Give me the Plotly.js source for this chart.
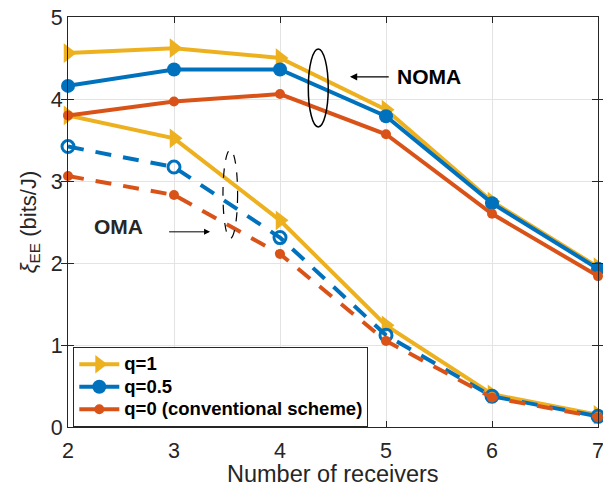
<!DOCTYPE html>
<html>
<head>
<meta charset="utf-8">
<script src="https://cdn.plot.ly/plotly-3.0.1.min.js"></script>
<style>html,body{margin:0;padding:0;background:#fff;}#chart{width:603px;height:485px;}</style>
</head>
<body>
<div id="chart"></div>
<script>
const receivers = [2, 3, 4, 5, 6, 7];
const nomaQ1   = [4.56, 4.62, 4.50, 3.87, 2.75, 1.95];
const nomaQ05  = [4.16, 4.36, 4.36, 3.79, 2.73, 1.93];
const nomaQ0   = [3.80, 3.97, 4.06, 3.57, 2.60, 1.84];
const omaQ1    = [3.80, 3.52, 2.52, 1.24, 0.40, 0.15];
const omaQ05   = [3.42, 3.17, 2.31, 1.12, 0.375, 0.13];
const omaQ0    = [3.06, 2.83, 2.11, 1.05, 0.36, 0.12];
const legendNames = ['q=1', 'q=0.5', 'q=0 (conventional scheme)'];
const xTicks = [2, 3, 4, 5, 6, 7];
const yTicks = [0, 1, 2, 3, 4, 5];
const xTitle = 'Number of receivers';
const yTitle = '<i>ξ</i><sub>EE</sub> (bits/J)';

const cYellow = '#EDB120', cBlue = '#0072BD', cOrange = '#D95319';
const LW = 4;
const FF = 'Liberation Sans, Arial, sans-serif';
const legLabel = s => '<span style="font-size:18.5px">' + s + '</span>';

const traces = [
  {x: receivers, y: omaQ1, mode: 'lines+markers', showlegend: false, cliponaxis: false,
   line: {color: cYellow, width: LW}, marker: {symbol: 'triangle-right', size: 17, color: cYellow}},
  {x: receivers, y: omaQ05, mode: 'lines+markers', showlegend: false, cliponaxis: false,
   line: {color: cBlue, width: LW, dash: '16px,12px'}, marker: {symbol: 'circle-open', size: 12, color: cBlue, line: {width: 3, color: cBlue}}},
  {x: receivers, y: omaQ0, mode: 'lines+markers', showlegend: false, cliponaxis: false,
   line: {color: cOrange, width: LW, dash: '16px,12px'}, marker: {symbol: 'circle', size: 10, color: cOrange}},
  {x: receivers, y: nomaQ1, mode: 'lines+markers', name: legLabel(legendNames[0]), cliponaxis: false,
   line: {color: cYellow, width: LW}, marker: {symbol: 'triangle-right', size: 17, color: cYellow}},
  {x: receivers, y: nomaQ05, mode: 'lines+markers', name: legLabel(legendNames[1]), cliponaxis: false,
   line: {color: cBlue, width: LW}, marker: {symbol: 'circle', size: 14, color: cBlue}},
  {x: receivers, y: nomaQ0, mode: 'lines+markers', name: legLabel(legendNames[2]), cliponaxis: false,
   line: {color: cOrange, width: LW}, marker: {symbol: 'circle', size: 10, color: cOrange}},
  // empty helper trace so the overlay axis (inside ticks only) is drawn
  {x: [], y: [], xaxis: 'x2', yaxis: 'y', mode: 'markers', showlegend: false, hoverinfo: 'skip'}
];

const axisCommon = {
  showline: true, linecolor: '#262626', linewidth: 1, mirror: 'allticks',
  ticks: 'inside', ticklen: 6, tickcolor: '#262626',
  showgrid: true, gridcolor: '#e3e3e3', gridwidth: 1, zeroline: false,
  ticklabeloverflow: 'allow',
  tickfont: {family: FF, size: 21.5, color: '#262626'}
};

const layout = {
  width: 603, height: 485,
  margin: {l: 68, r: 5, t: 17, b: 58},
  paper_bgcolor: '#fff', plot_bgcolor: '#fff',
  font: {family: FF, color: '#262626'},
  xaxis: Object.assign({}, axisCommon, {
    range: [2, 7], tickvals: xTicks, ticktext: xTicks.map(String),
    ticks: 'outside', ticklen: 4, tickcolor: 'rgba(0,0,0,0)', mirror: true
  }),
  xaxis2: {
    overlaying: 'x', anchor: 'y', side: 'bottom', range: [2, 7], tickvals: xTicks,
    showticklabels: false, ticks: 'inside', ticklen: 6, tickcolor: '#262626',
    showline: true, linecolor: '#262626', linewidth: 1, mirror: 'allticks',
    showgrid: false, zeroline: false
  },
  yaxis: Object.assign({}, axisCommon, {
    range: [0, 5], tickvals: yTicks, ticktext: yTicks.map(String),
    title: {text: yTitle, font: {family: FF, size: 22, color: '#262626'}, standoff: 8}
  }),
  legend: {
    x: 0.01, y: 0.195, xanchor: 'left', yanchor: 'top',
    bgcolor: '#fff', bordercolor: '#262626', borderwidth: 1,
    font: {family: FF, size: 15, color: '#000', weight: 'bold'},
    tracegroupgap: 0, itemwidth: 40
  },
  shapes: [
    {type: 'circle', xref: 'x', yref: 'y', x0: 4.267, x1: 4.455, y0: 3.66, y1: 4.61,
     line: {color: '#000', width: 1.5}},
    {type: 'circle', xref: 'x', yref: 'y', x0: 3.462, x1: 3.600, y0: 2.30, y1: 3.38,
     line: {color: '#000', width: 1.2, dash: 'dash'}}
  ],
  annotations: [
    {x: 0.5, y: -0.115, xref: 'paper', yref: 'paper', text: xTitle, showarrow: false,
     xanchor: 'center', yanchor: 'middle', height: 20, valign: 'middle', borderpad: 0,
     font: {family: FF, size: 23.5, color: '#262626'}},
    {x: 5.41, y: 4.27, xref: 'x', yref: 'y', text: '<b>NOMA</b>', showarrow: false,
     font: {family: FF, size: 21, color: '#000'}},
    {x: 4.66, y: 4.27, ax: 5.04, ay: 4.27, xref: 'x', yref: 'y', axref: 'x', ayref: 'y',
     text: '', showarrow: true, arrowhead: 2, arrowsize: 1.2, arrowwidth: 1.2, arrowcolor: '#000'},
    {x: 2.48, y: 2.44, xref: 'x', yref: 'y', text: '<b>OMA</b>', showarrow: false,
     font: {family: FF, size: 21, color: '#262626'}},
    {x: 3.34, y: 2.38, ax: 2.94, ay: 2.38, xref: 'x', yref: 'y', axref: 'x', ayref: 'y',
     text: '', showarrow: true, arrowhead: 2, arrowsize: 1.2, arrowwidth: 1, arrowcolor: '#000'}
  ]
};

Plotly.newPlot('chart', traces, layout, {displayModeBar: false, staticPlot: true});
</script>
</body>
</html>
